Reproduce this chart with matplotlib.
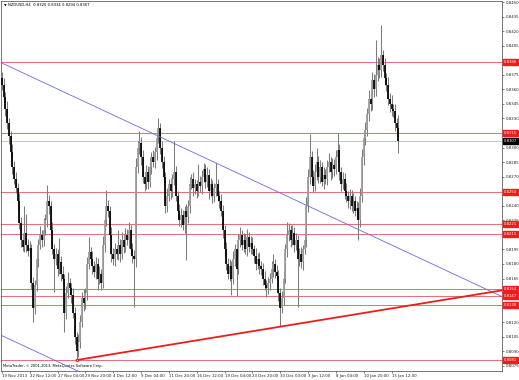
import numpy as np
import matplotlib
matplotlib.use("Agg")
import matplotlib.pyplot as plt
import matplotlib.transforms as mtransforms

# NZDUSD H4 bars, prices in pips (0.0001)
first_open = 8372
closes = [
    8365, 8352, 8340, 8325, 8312, 8295, 8280, 8268, 8258, 8245, 8222, 8205, 8198, 8212, 8200, 8193, 8196, 8160, 8135, 8158,
    8185, 8200, 8210, 8205, 8215, 8225, 8245, 8240, 8215, 8195, 8185, 8190, 8175, 8182, 8170, 8165, 8130, 8150, 8160, 8155,
    8148, 8130, 8105, 8090, 8100, 8120, 8145, 8140, 8150, 8180, 8192, 8185, 8178, 8172, 8180, 8165, 8170, 8160, 8200, 8225,
    8240, 8235, 8210, 8190, 8185, 8195, 8190, 8200, 8190, 8205, 8198, 8210, 8205, 8215, 8195, 8188, 8185, 8280, 8300, 8305,
    8290, 8270, 8262, 8275, 8265, 8280, 8290, 8285, 8295, 8310, 8320, 8300, 8285, 8270, 8240, 8250, 8262, 8255, 8268, 8275,
    8250, 8235, 8225, 8230, 8220, 8235, 8228, 8240, 8262, 8268, 8258, 8262, 8255, 8265, 8260, 8270, 8278, 8265, 8272, 8255,
    8262, 8250, 8258, 8262, 8250, 8245, 8235, 8215, 8195, 8180, 8170, 8178, 8165, 8185, 8195, 8175, 8205, 8210, 8200, 8205,
    8195, 8208, 8198, 8202, 8195, 8188, 8180, 8185, 8178, 8175, 8165, 8158, 8155, 8160, 8165, 8175, 8180, 8172, 8168, 8150,
    8135, 8145, 8165, 8195, 8210, 8215, 8205, 8212, 8200, 8205, 8185, 8190, 8182, 8195, 8205, 8240, 8270, 8290, 8270, 8260,
    8275, 8285, 8270, 8280, 8265, 8272, 8268, 8280, 8285, 8275, 8282, 8278, 8290, 8298, 8275, 8262, 8268, 8255, 8250, 8245,
    8250, 8240, 8245, 8235, 8238, 8225, 8250, 8290, 8310, 8318, 8335, 8350, 8345, 8370, 8360, 8375, 8385, 8380, 8395, 8385,
    8372, 8365, 8350, 8345, 8340, 8338, 8325, 8320, 8307,
]
upper_wicks = [
    6, 7, 5, 8, 6, 5, 9, 6, 7, 5, 8, 6, 7, 28, 20, 6, 8, 5, 7, 6,
    8, 6, 9, 5, 12, 7, 16, 6, 5, 8, 6, 7, 5, 25, 6, 8, 5, 7, 12, 6,
    5, 7, 6, 5, 8, 7, 6, 9, 5, 7, 16, 6, 8, 5, 7, 6, 8, 5, 9, 7,
    16, 6, 5, 8, 6, 7, 5, 15, 6, 8, 5, 7, 6, 8, 5, 7, 6, 9, 7, 12,
    6, 8, 5, 7, 6, 8, 5, 7, 6, 8, 10, 5, 7, 6, 5, 8, 6, 7, 5, 32,
    6, 5, 7, 8, 6, 5, 7, 6, 8, 5, 7, 6, 5, 18, 6, 7, 6, 5, 8, 6,
    7, 5, 6, 22, 6, 5, 7, 6, 5, 8, 6, 7, 5, 8, 6, 7, 6, 8, 5, 7,
    6, 8, 5, 7, 6, 5, 8, 6, 7, 5, 6, 8, 5, 7, 6, 8, 10, 5, 7, 6,
    5, 7, 8, 6, 13, 7, 5, 8, 6, 7, 5, 6, 8, 5, 7, 9, 8, 24, 6, 7,
    8, 15, 6, 7, 5, 8, 6, 7, 9, 5, 7, 6, 8, 17, 6, 5, 7, 6, 8, 5,
    7, 6, 8, 5, 7, 6, 8, 9, 7, 8, 6, 9, 7, 8, 6, 36, 8, 7, 31, 6,
    7, 5, 8, 6, 9, 5, 7, 6, 14,
]
lower_wicks = [
    6, 5, 7, 6, 8, 5, 7, 6, 5, 8, 6, 7, 5, 6, 8, 5, 7, 6, 15, 7,
    6, 8, 5, 7, 6, 5, 7, 8, 6, 5, 34, 6, 7, 5, 8, 6, 20, 7, 5, 6,
    8, 6, 7, 9, 6, 7, 5, 8, 6, 7, 5, 6, 8, 5, 7, 12, 6, 7, 5, 8,
    6, 7, 5, 8, 6, 7, 5, 6, 8, 5, 7, 6, 5, 8, 6, 7, 49, 8, 6, 7,
    8, 6, 7, 5, 8, 6, 7, 5, 6, 8, 5, 7, 6, 8, 7, 6, 5, 8, 6, 7,
    5, 8, 6, 7, 5, 8, 44, 6, 7, 5, 8, 6, 7, 5, 6, 8, 5, 7, 6, 8,
    5, 7, 6, 8, 5, 7, 6, 8, 7, 6, 5, 8, 17, 6, 7, 28, 5, 7, 6, 8,
    5, 7, 6, 8, 5, 7, 6, 5, 8, 6, 7, 5, 9, 6, 7, 5, 8, 6, 5, 8,
    19, 6, 7, 5, 8, 6, 7, 5, 8, 6, 49, 7, 6, 8, 5, 7, 6, 8, 7, 6,
    5, 8, 6, 7, 5, 8, 6, 7, 5, 8, 6, 7, 5, 6, 8, 7, 5, 8, 6, 7,
    8, 5, 7, 6, 8, 20, 7, 6, 8, 7, 6, 8, 7, 6, 8, 7, 6, 8, 7, 6,
    8, 7, 6, 8, 7, 6, 8, 7, 13,
]

date_labels = ["19 Nov 2013", "22 Nov 12:00", "27 Nov 04:00", "29 Nov 20:00", "4 Dec 12:00",
               "9 Dec 04:00", "11 Dec 20:00", "16 Dec 12:00", "19 Dec 04:00", "23 Dec 20:00",
               "30 Dec 00:00", "3 Jan 12:00", "8 Jan 04:00", "10 Jan 20:00", "15 Jan 12:00"]
bars_per_label = 16
# scale labels (the ones under the red/black price boxes are hidden there anyway)
price_ticks = [0.8450, 0.8435, 0.8420, 0.8405, 0.8375, 0.8360, 0.8345, 0.8330,
               0.8300, 0.8285, 0.8270, 0.8240, 0.8225, 0.8195, 0.8180, 0.8165,
               0.8120, 0.8105, 0.8090, 0.8075]

# horizontal levels and trendlines (bar index, price)
levels = [0.8388, 0.8315, 0.8254, 0.8221, 0.8211, 0.8154, 0.8147, 0.8138, 0.8081]
bid = 0.8307
blue_upper = [(-1, 0.8388), (288, 0.8146)]
blue_lower = [(-1, 0.8107), (60, 0.8056)]
red_trend = [(43, 0.8081), (288, 0.8153)]

close = np.array(closes) / 10000
opens = np.concatenate([[first_open], closes[:-1]]) / 10000
highs = np.maximum(opens, close) + np.array(upper_wicks) / 10000
lows = np.minimum(opens, close) - np.array(lower_wicks) / 10000
idx = np.arange(len(close))

fig = plt.figure(figsize=(5.19, 3.80), dpi=100)
ax = fig.add_axes([1 / 519, 9 / 380, 501 / 519, 370 / 380])
ax.set_xlim(-0.5, 287.5)
ax.set_ylim(0.80697, 0.84511)

# levels
for lv in levels:
    ax.axhline(lv, color="#e8545c", lw=0.6, zorder=1)
ax.axhline(bid, color="#c8c8c8", lw=0.7, zorder=1)

# bars
ax.vlines(idx, lows, highs, color="#7c7c7c", lw=0.75, zorder=2)
up = close >= opens
ax.vlines(idx[up], opens[up], close[up], color="#9c9c9c", lw=1.25, zorder=3)
ax.vlines(idx[~up], opens[~up], close[~up], color="black", lw=1.25, zorder=3)

# trendlines
for line, col, lw in [(blue_upper, "#6a6ae0", 0.6), (blue_lower, "#6a6ae0", 0.6), (red_trend, "#ee1c1c", 1.3)]:
    ax.plot([p[0] for p in line], [p[1] for p in line], color=col, lw=lw, zorder=4)
ax.plot(red_trend[0][0], red_trend[0][1], marker="s", ms=2, mfc="white", mec="red", mew=0.6, zorder=5)

# axes styling
for s in ax.spines.values():
    s.set_color("#606060")
    s.set_linewidth(0.6)
ax.yaxis.tick_right()
ax.set_yticks(price_ticks)
ax.set_yticklabels(["%.4f" % v for v in price_ticks])
ax.set_xticks(idx[::bars_per_label][:len(date_labels)])
ax.set_xticklabels(date_labels, ha="left")
ax.tick_params(axis="both", labelsize=2.8, length=1.5, width=0.4, pad=1, colors="#202020")

trans = mtransforms.blended_transform_factory(ax.transAxes, ax.transData)
for lv in levels:
    ax.text(1.004, lv, "%.4f" % lv, transform=trans, fontsize=2.7, color="white", va="center", ha="left",
            clip_on=False, zorder=6, bbox=dict(boxstyle="square,pad=0.22", fc="#ee1c1c", ec="#ee1c1c"))
ax.text(1.004, bid, "%.4f" % bid, transform=trans, fontsize=2.7, color="white", va="center", ha="left",
        clip_on=False, zorder=6, bbox=dict(boxstyle="square,pad=0.22", fc="black", ec="black"))

ax.text(0.005, 0.988, "\u25bc", transform=ax.transAxes, fontsize=2.5, va="center", ha="left")
ax.text(0.014, 0.988, "NZDUSD,H4  %.4f %.4f %.4f %.4f" % (opens[-1], highs[-1], lows[-1], close[-1]),
        transform=ax.transAxes, fontsize=2.7, va="center", ha="left")
ax.text(0.003, 0.013, "MetaTrader, \u00a9 2001-2013, MetaQuotes Software Corp.", transform=ax.transAxes,
        fontsize=2.6, va="center", ha="left")

fig.savefig("out.png", dpi=100)
